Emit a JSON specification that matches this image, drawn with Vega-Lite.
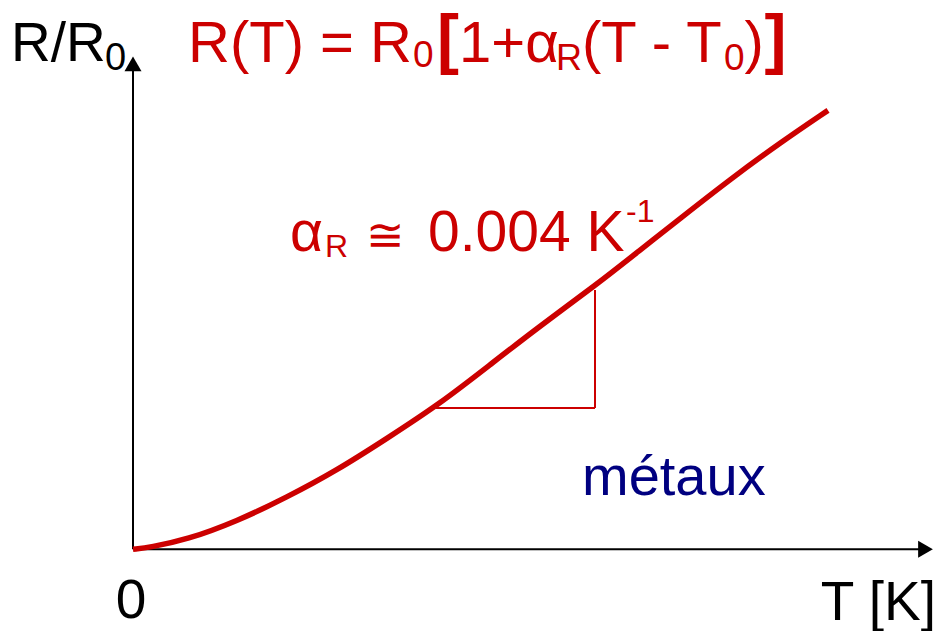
{
  "$schema": "https://vega.github.io/schema/vega-lite/v6.json",
  "width": 937,
  "height": 631,
  "autosize": {"type": "fit", "contains": "padding"},
  "padding": 0,
  "background": "white",
  "config": {"view": {"stroke": null}, "font": "Liberation Sans"},
  "encoding": {
    "x": {"field": "T", "type": "quantitative", "scale": {"domain": [-66.5, 402], "nice": false, "zero": false}, "axis": null},
    "y": {"field": "R", "type": "quantitative", "scale": {"domain": [-0.8, 5.51], "nice": false, "zero": false}, "axis": null}
  },
  "layer": [
    {
      "data": {"values": [
        {"T": 0, "R": 0, "T2": 0, "R2": 4.87},
        {"T": 0, "R": 0, "T2": 396, "R2": 0}
      ]},
      "mark": {"type": "rule", "color": "black", "strokeWidth": 2},
      "encoding": {"x2": {"field": "T2"}, "y2": {"field": "R2"}}
    },
    {
      "data": {"values": [{"T": 0, "R": 4.87}]},
      "mark": {"type": "point", "shape": "triangle-up", "size": 290, "filled": true, "color": "black", "opacity": 1}
    },
    {
      "data": {"values": [{"T": 396.25, "R": 0}]},
      "mark": {"type": "point", "shape": "triangle-right", "size": 290, "filled": true, "color": "black", "opacity": 1}
    },
    {
      "data": {"values": [
        {"T": 151.5, "R": 1.417, "T2": 231, "R2": 1.417},
        {"T": 231, "R": 1.417, "T2": 231, "R2": 2.6}
      ]},
      "mark": {"type": "rule", "color": "#CC0000", "strokeWidth": 2},
      "encoding": {"x2": {"field": "T2"}, "y2": {"field": "R2"}}
    },
    {
      "data": {"values": [
        {"T": 0, "R": 0},
        {"T": 8.5, "R": 0.02},
        {"T": 26.85, "R": 0.095},
        {"T": 51.85, "R": 0.28},
        {"T": 76.85, "R": 0.52},
        {"T": 101.85, "R": 0.79},
        {"T": 126.85, "R": 1.11},
        {"T": 153.5, "R": 1.46},
        {"T": 178.5, "R": 1.85},
        {"T": 203.5, "R": 2.24},
        {"T": 231, "R": 2.643},
        {"T": 253.5, "R": 3.0},
        {"T": 273.5, "R": 3.317},
        {"T": 298.5, "R": 3.71},
        {"T": 323.5, "R": 4.077},
        {"T": 347.5, "R": 4.403}
      ]},
      "mark": {"type": "line", "color": "#CC0000", "strokeWidth": 5.5, "interpolate": "basis", "strokeCap": "butt"},
      "encoding": {"order": {"field": "T", "type": "quantitative"}}
    },
    {
      "data": {"values": [
        {"T": -61, "R": 4.9, "label": "R/R"}
      ]},
      "mark": {"type": "text", "align": "left", "baseline": "alphabetic", "fontSize": 55, "color": "black"},
      "encoding": {"text": {"field": "label"}}
    },
    {
      "data": {"values": [
        {"T": -14, "R": 4.81, "label": "0"}
      ]},
      "mark": {"type": "text", "align": "left", "baseline": "alphabetic", "fontSize": 38, "color": "black"},
      "encoding": {"text": {"field": "label"}}
    },
    {
      "data": {"values": [
        {"T": 27.5, "R": 4.89, "label": "R(T) = R"},
        {"T": 163, "R": 4.89, "label": "1+α"},
        {"T": 224.5, "R": 4.89, "label": "(T - T"},
        {"T": 305.75, "R": 4.89, "label": ")"}
      ]},
      "mark": {"type": "text", "align": "left", "baseline": "alphabetic", "fontSize": 58, "color": "#CC0000"},
      "encoding": {"text": {"field": "label"}}
    },
    {
      "data": {"values": [
        {"T": 140, "R": 4.84, "label": "0"},
        {"T": 295.5, "R": 4.81, "label": "0"}
      ]},
      "mark": {"type": "text", "align": "left", "baseline": "alphabetic", "fontSize": 37, "color": "#CC0000"},
      "encoding": {"text": {"field": "label"}}
    },
    {
      "data": {"values": [
        {"T": 211.5, "R": 4.81, "label": "R"}
      ]},
      "mark": {"type": "text", "align": "left", "baseline": "alphabetic", "fontSize": 36, "color": "#CC0000"},
      "encoding": {"text": {"field": "label"}}
    },
    {
      "data": {"values": [
        {"T": 152, "R": 4.9, "label": "["},
        {"T": 315.75, "R": 4.9, "label": "]"}
      ]},
      "mark": {"type": "text", "align": "left", "baseline": "alphabetic", "fontSize": 66, "fontWeight": "bold", "color": "#CC0000"},
      "encoding": {"text": {"field": "label"}}
    },
    {
      "data": {"values": [
        {"T": 78.5, "R": 2.99, "label": "α"},
        {"T": 147.5, "R": 2.99, "label": "0.004 K"}
      ]},
      "mark": {"type": "text", "align": "left", "baseline": "alphabetic", "fontSize": 57, "color": "#CC0000"},
      "encoding": {"text": {"field": "label"}}
    },
    {
      "data": {"values": [
        {"T": 96, "R": 2.93, "label": "R"},
        {"T": 246.5, "R": 3.28, "label": "-1"}
      ]},
      "mark": {"type": "text", "align": "left", "baseline": "alphabetic", "fontSize": 32, "color": "#CC0000"},
      "encoding": {"text": {"field": "label"}}
    },
    {
      "data": {"values": [
        {"T": 116.5, "R": 2.99, "label": "≅"}
      ]},
      "mark": {"type": "text", "align": "left", "baseline": "alphabetic", "fontSize": 46, "color": "#CC0000"},
      "encoding": {"text": {"field": "label"}}
    },
    {
      "data": {"values": [
        {"T": 224.5, "R": 0.54, "label": "métaux"}
      ]},
      "mark": {"type": "text", "align": "left", "baseline": "alphabetic", "fontSize": 56, "color": "#000080"},
      "encoding": {"text": {"field": "label"}}
    },
    {
      "data": {"values": [
        {"T": -1, "R": -0.69, "label": "0"}
      ]},
      "mark": {"type": "text", "align": "center", "baseline": "alphabetic", "fontSize": 55, "color": "black"},
      "encoding": {"text": {"field": "label"}}
    },
    {
      "data": {"values": [
        {"T": 401.5, "R": -0.71, "label": "T [K]"}
      ]},
      "mark": {"type": "text", "align": "right", "baseline": "alphabetic", "fontSize": 55, "color": "black"},
      "encoding": {"text": {"field": "label"}}
    }
  ]
}
